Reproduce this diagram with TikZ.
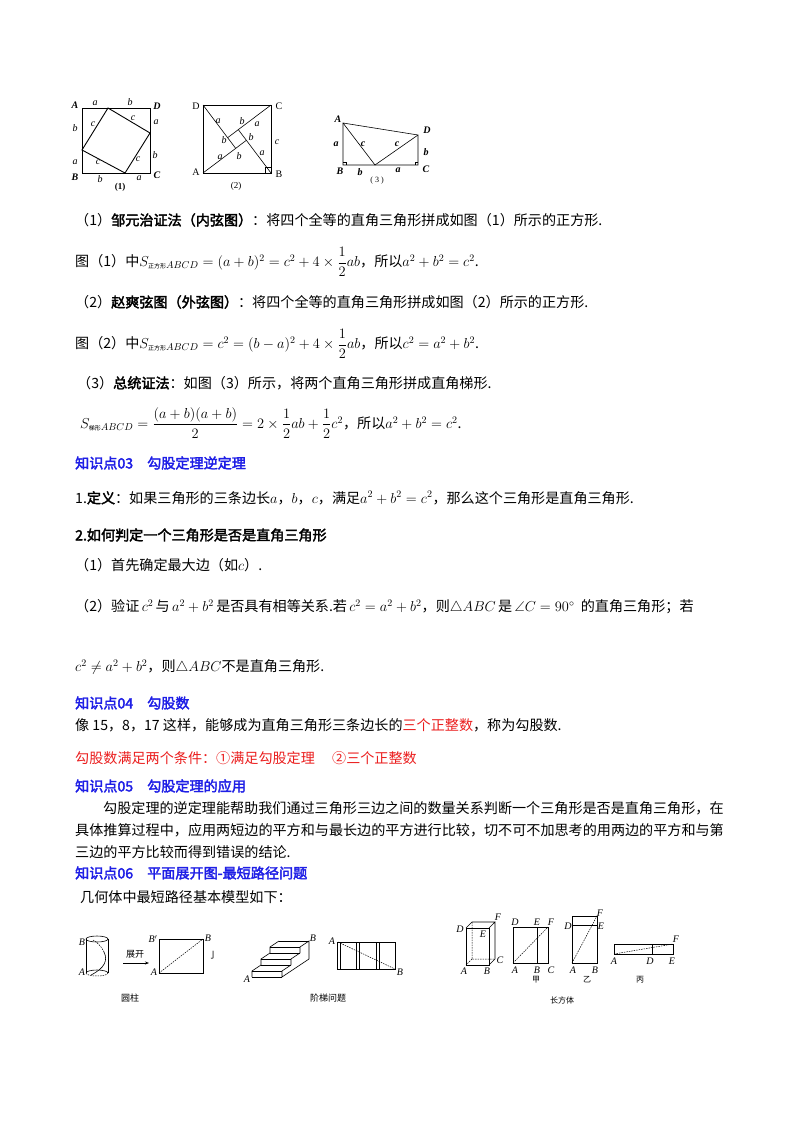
\documentclass[tikz,border=0pt]{standalone}
\usepackage{amsmath,amssymb}
\usepackage{fontspec}
\setmainfont{Noto Sans CJK SC}[BoldFont={Noto Sans CJK SC},BoldFeatures={FakeBold=2.5}]
\newfontfamily\lat{Liberation Serif}
\usetikzlibrary{arrows.meta}
\definecolor{kblue}{RGB}{30,30,230}
\definecolor{kred}{RGB}{235,30,30}
\begin{document}
\begin{tikzpicture}[x=1pt,y=-1pt,
  txt/.style={anchor=west,inner sep=0pt,font=\fontsize{14.1}{16}\selectfont},
  head/.style={txt,text=kblue,font=\fontsize{14.1}{16}\selectfont\bfseries},
  lbl/.style={inner sep=0pt,font=\fontsize{10}{11}\selectfont\lat\itshape},
  lblb/.style={inner sep=0pt,font=\fontsize{10}{11}\selectfont\lat\bfseries\itshape},
  lblu/.style={inner sep=0pt,font=\fontsize{10}{11}\selectfont\lat},
  fig/.style={line width=0.9pt},
  thin/.style={line width=0.6pt},
  dsh/.style={line width=0.5pt,dashed,dash pattern=on 1.5pt off 1pt}]
\useasboundingbox[fill=white] (0,0) rectangle (800,1132);

% ---------- Figure (1)
\coordinate (fA) at (82,108); \coordinate (fD) at (150,108);
\coordinate (fC) at (150,173); \coordinate (fB) at (82,173);
\coordinate (p1) at (108,108); \coordinate (p2) at (150,133);
\coordinate (p3) at (125,173); \coordinate (p4) at (82,150);
\draw[fig] (fA)--(fD)--(fC)--(fB)--cycle;
\draw[fig] (p1)--(p2)--(p3)--(p4)--cycle;
\node[lblb] (l1A) at (75,105) {A};
\node[lblb] (l1D) at (157,106) {D};
\node[lblb] (l1B) at (75,177) {B};
\node[lblb] (l1C) at (157,175) {C};
\node[lbl] (l1a1) at (95,103) {a}; \node[lbl] (l1b1) at (130,102) {b};
\node[lbl] (l1a2) at (156,122) {a}; \node[lbl] (l1b2) at (155,155) {b};
\node[lbl] (l1b3) at (75,128) {b}; \node[lbl] (l1a3) at (75,162) {a};
\node[lbl] (l1b4) at (100,179) {b}; \node[lbl] (l1a4) at (139,178) {a};
\node[lbl] (l1c1) at (93,124) {c}; \node[lbl] (l1c2) at (133,118) {c};
\node[lbl] (l1c3) at (98,162) {c}; \node[lbl] (l1c4) at (138,159) {c};
\node[lblu,font=\fontsize{9}{10}\selectfont\lat\bfseries] (l1n) at (120,187) {(1)};

% ---------- Figure (2)
\begin{scope}[shift={(203,173)},yscale=-1]
\coordinate (gA) at (0,0); \coordinate (gB) at (68,0);
\coordinate (gC) at (68,68); \coordinate (gD) at (0,68);
\draw[thin] (gA)--(gB)--(gC)--(gD)--cycle;
\draw[thin] (gA)--++(37:54.4) coordinate (q1);
\draw[thin] (gB)--++(127:54.4) coordinate (q2);
\draw[thin] (gC)--++(217:54.4) coordinate (q3);
\draw[thin] (gD)--++(307:54.4) coordinate (q4);
\draw[line width=0.4pt] (62,0)--(62,6)--(68,6);
\end{scope}
\node[lblu] (l2D) at (196,106) {D}; \node[lblu] (l2C) at (279,106) {C};
\node[lblu] (l2A) at (196,172) {A}; \node[lblu] (l2B) at (279,174) {B};
\node[lbl] (l2a1) at (218,121) {a}; \node[lbl] (l2b1) at (242,121) {b};
\node[lbl] (l2a2) at (257,124) {a}; \node[lbl] (l2b2) at (224,140) {b};
\node[lbl] (l2b3) at (251,137) {b}; \node[lbl] (l2c) at (277,142) {c};
\node[lbl] (l2a3) at (220,157) {a}; \node[lbl] (l2b4) at (239,156) {b};
\node[lbl] (l2a4) at (262,153) {a};
\node[lblu,font=\fontsize{9}{10}\selectfont\lat] (l2n) at (236,186) {(2)};

% ---------- Figure (3)
\coordinate (hA) at (343,123); \coordinate (hD) at (418,135);
\coordinate (hC) at (418,165); \coordinate (hB) at (343,165);
\coordinate (hE) at (375,165);
\draw[thin] (hA)--(hD)--(hC)--(hB)--cycle;
\draw[thin] (hA)--(hE)--(hD);
\draw[line width=0.4pt] (343,162)--(346,162)--(346,165);
\draw[line width=0.4pt] (418,162)--(415,162)--(415,165);
\node[lblb] (l3A) at (338,119) {A};
\node[lblb] (l3D) at (427,130) {D};
\node[lblb] (l3C) at (426,169) {C};
\node[lblb] (l3B) at (340,171) {B};
\node[lblb] (l3a1) at (336,144) {a};
\node[lblb] (l3c1) at (363,144) {c};
\node[lblb] (l3c2) at (397,144) {c};
\node[lblb] (l3b1) at (426,152) {b};
\node[lblb] (l3b2) at (360,172) {b};
\node[lblb] (l3a2) at (398,170) {a};
\node[lblu,font=\fontsize{8}{9}\selectfont\lat] (l3n) at (377,181) {( 3 )};

% ---------- Text
\node[txt] (t1) at (75,220) {（1）\textbf{邹元治证法（内弦图）}：将四个全等的直角三角形拼成如图（1）所示的正方形.};
\node[txt] (t2) at (75,262) {图（1）中$S_{\mbox{\fontsize{6}{6}\selectfont 正方形}ABCD}=(a+b)^2=c^2+4\times\dfrac{1}{2}ab$，所以$a^2+b^2=c^2$.};
\node[txt] (t3) at (75,302) {（2）\textbf{赵爽弦图（外弦图）}：将四个全等的直角三角形拼成如图（2）所示的正方形.};
\node[txt] (t4) at (75,344) {图（2）中$S_{\mbox{\fontsize{6}{6}\selectfont 正方形}ABCD}=c^2=(b-a)^2+4\times\dfrac{1}{2}ab$，所以$c^2=a^2+b^2$.};
\node[txt] (t5) at (77,383) {（3）\textbf{总统证法}：如图（3）所示，将两个直角三角形拼成直角梯形.};
\node[txt] (t6) at (80,423) {$S_{\mbox{\fontsize{6}{6}\selectfont 梯形}ABCD}=\dfrac{(a+b)(a+b)}{2}=2\times\dfrac{1}{2}ab+\dfrac{1}{2}c^2$，所以$a^2+b^2=c^2$.};
\node[head] (k3) at (75,463) {知识点03\quad 勾股定理逆定理};
\node[txt] (t7) at (75,498) {1.\textbf{定义}：如果三角形的三条边长$a$，$b$，$c$，满足$a^2+b^2=c^2$，那么这个三角形是直角三角形.};
\node[txt] (t8) at (75,535) {\textbf{2.如何判定一个三角形是否是直角三角形}};
\node[txt] (t9) at (75,565) {（1）首先确定最大边（如$c$）.};
\node[txt] (t10) at (75,607) {（2）验证\,$c^2$\,与\,$a^2+b^2$\,是否具有相等关系.若\,$c^2=a^2+b^2$，则$\triangle ABC$\,是\,$\angle C=90^\circ$\ \ 的直角三角形；若};
\node[txt] (t11) at (75,667) {$c^2\neq a^2+b^2$，则$\triangle ABC$不是直角三角形.};
\node[head] (k4) at (75,703) {知识点04\quad 勾股数};
\node[txt] (t12) at (75,725) {像\ 15，8，17\ 这样，能够成为直角三角形三条边长的\textcolor{kred}{三个正整数}，称为勾股数.};
\node[txt,text=kred] (t13) at (75,758) {勾股数满足两个条件：①满足勾股定理\quad\ ②三个正整数};
\node[head] (k5) at (75,786) {知识点05\quad 勾股定理的应用};
\node[txt] (t14) at (103,808) {勾股定理的逆定理能帮助我们通过三角形三边之间的数量关系判断一个三角形是否是直角三角形，在};
\node[txt] (t15) at (75,830) {具体推算过程中，应用两短边的平方和与最长边的平方进行比较，切不可不加思考的用两边的平方和与第};
\node[txt] (t16) at (75,852) {三边的平方比较而得到错误的结论.};
\node[head] (k6) at (75,873) {知识点06\quad 平面展开图-最短路径问题};
\node[txt] (t17) at (80,897) {几何体中最短路径基本模型如下：};

% ---------- Cylinder
\draw[thin] (97,939) ellipse (11 and 3);
\draw[thin] (86,939)--(86,973) (108,939)--(108,973);
\draw[thin] (86,973) arc (180:360:11 and 3);
\draw[dsh] (86,973) arc (180:0:11 and 3);
\draw[thin] (91,975) .. controls (105,968) and (108,960) .. (104,952);
\draw[dsh] (104,952) .. controls (100,944) and (96,942) .. (93,940);
\node[lbl] (cB) at (82,942) {B}; \node[lbl] (cA) at (82,972) {A};
\coordinate (ar1) at (123,963); \coordinate (ar2) at (149,963);
\draw[thin,-{Stealth[length=4pt]}] (ar1)--(ar2);
\node[inner sep=0pt,font=\fontsize{9}{10}\selectfont] (zk) at (135,954) {展开};
\draw[thin] (159,939) rectangle (203,973);
\draw[dsh] (159,973)--(203,939);
\node[lbl] (rB1) at (153,939) {B$'$}; \node[lbl] (rB) at (208,938) {B};
\node[lbl] (rA) at (154,972) {A};
\node[inner sep=0pt,font=\fontsize{9}{10}\selectfont] (jj) at (213,955) {亅};
\node[inner sep=0pt,font=\fontsize{9}{10}\selectfont] (yz) at (130,998) {圆柱};

% ---------- Stairs (W=(30,0), riser=(0,-6), tread=(9,-6))
\begin{scope}[thin]
\draw (252,977)--(252,971)--(261,965)--(261,959)--(270,953)--(270,947)--(279,941);
\draw (282,977)--(282,971)--(291,965)--(291,959)--(300,953)--(300,947)--(309,941)--(309,959)--(282,977);
\draw (252,977)--(282,977) (252,971)--(282,971) (261,965)--(291,965)
      (261,959)--(291,959) (270,953)--(300,953) (270,947)--(300,947) (279,941)--(309,941);
\end{scope}
\node[lbl] (sB) at (313,938) {B}; \node[lbl] (sA) at (247,979) {A};
\draw[thin] (337,942) rectangle (395,969);
\draw[thin] (340,942)--(340,969) (356,942)--(356,969) (359,942)--(359,969)
  (376,942)--(376,969) (379,942)--(379,969);
\draw[dsh] (338,942)--(395,969);
\node[lbl] (s2A) at (332,941) {A}; \node[lbl] (s2B) at (400,972) {B};
\node[inner sep=0pt,font=\fontsize{9}{10}\selectfont] (jt) at (328,998) {阶梯问题};

% ---------- Cuboid
\draw[thin] (466,928) rectangle (489,965);
\draw[thin] (466,928)--(472,922)--(495,922)--(489,928) (495,922)--(495,959)--(489,965);
\draw[dsh] (472,922)--(472,959)--(495,959) (472,959)--(466,965);
\node[lbl] (uD) at (460,929) {D}; \node[lbl] (uE) at (483,934) {E};
\node[lbl] (uF) at (498,917) {F}; \node[lbl] (uC) at (500,960) {C};
\node[lbl] (uA) at (464,971) {A}; \node[lbl] (uB) at (487,971) {B};
% jia
\draw[thin] (513,927) rectangle (548,963); \draw[thin] (537,927)--(537,963);
\draw[dsh] (513,963)--(548,927);
\node[lbl] (jD) at (515,922) {D}; \node[lbl] (jE) at (537,922) {E}; \node[lbl] (jF) at (551,922) {F};
\node[lbl] (jA) at (515,970) {A}; \node[lbl] (jB) at (537,970) {B}; \node[lbl] (jC) at (551,970) {C};
\node[inner sep=0pt,font=\fontsize{8}{9}\selectfont] (jia) at (536,980) {甲};
% yi
\draw[thin] (572,916) rectangle (597,963); \draw[thin] (572,925)--(597,925);
\draw[dsh] (572,963)--(597,916);
\node[lbl] (yF) at (600,913) {F}; \node[lbl] (yE) at (601,926) {E}; \node[lbl] (yD) at (568,926) {D};
\node[lbl] (yA) at (573,970) {A}; \node[lbl] (yB) at (595,970) {B};
\node[inner sep=0pt,font=\fontsize{8}{9}\selectfont] (yi) at (587,980) {乙};
% bing
\draw[thin] (614,944) rectangle (673,954); \draw[thin] (652,944)--(652,954);
\draw[line width=1pt] (614,954)--(673,954);
\draw[dsh] (614,954)--(673,944);
\node[lbl] (bF) at (676,939) {F}; \node[lbl] (bA) at (614,961) {A};
\node[lbl] (bD) at (650,961) {D}; \node[lbl] (bE) at (672,961) {E};
\node[inner sep=0pt,font=\fontsize{8}{9}\selectfont] (bing) at (640,980) {丙};
\node[inner sep=0pt,font=\fontsize{8}{9}\selectfont] (cft) at (562,1000) {长方体};
\end{tikzpicture}
\end{document}
